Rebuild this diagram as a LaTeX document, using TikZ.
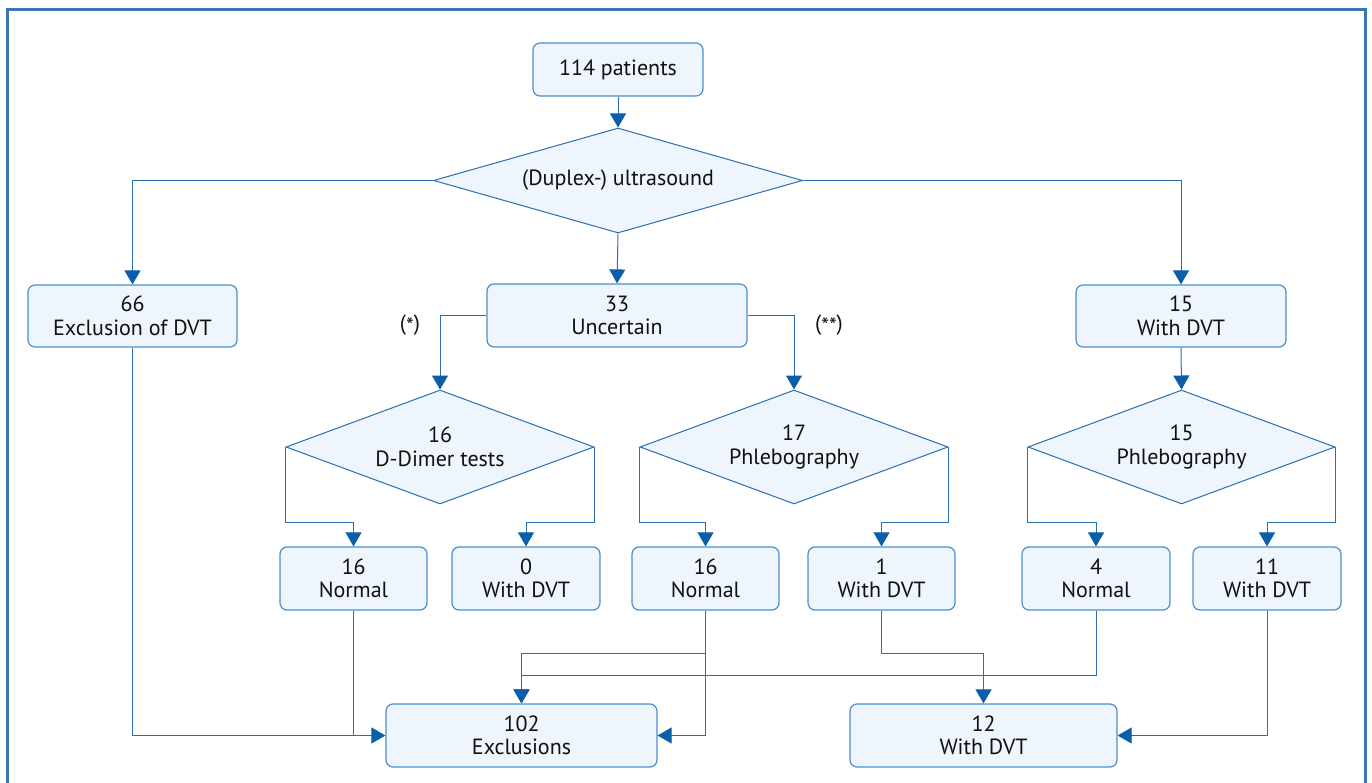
\documentclass[tikz,border=0pt]{standalone}
\usepackage{fontspec}
\setmainfont{PT Sans}
\usetikzlibrary{shapes.geometric,arrows.meta}
\definecolor{lineblue}{HTML}{2A6FB2}
\definecolor{arrowblue}{HTML}{0B5FA8}
\definecolor{boxfill}{HTML}{EEF5FC}
\definecolor{boxline}{HTML}{4D8FCB}
\definecolor{frameblue}{HTML}{3A76B4}
\definecolor{txt}{HTML}{111111}
\newcommand{\lowast}{\raisebox{-0.28ex}{*}}
\begin{document}
\begin{tikzpicture}[x=1pt,y=-1pt,
  every node/.style={font=\fontsize{22}{23.5}\selectfont, text=txt},
  box/.style={draw=boxline, fill=boxfill, rounded corners=7pt, line width=1.2pt, align=center, inner sep=0pt},
  dia/.style={draw=lineblue, fill=boxfill, diamond, aspect=3, inner sep=0pt, line width=1pt, align=center},
  conn/.style={draw=lineblue, line width=1pt},
  arr/.style={conn, -{Triangle[width=16pt,length=14pt,color=arrowblue]}},
  lbl/.style={inner sep=0pt}
]
\useasboundingbox (0,0) rectangle (1372,783);
\draw[frameblue, line width=2.5pt] (7.5,783) -- (7.5,9.5) -- (1365.5,9.5) -- (1365.5,783);

\node[box, minimum width=170pt, minimum height=53pt] (p114) at (618,69.5) {114 patients};
\node[dia, minimum width=369pt, minimum height=105pt] (dup) at (618,180.5) {(Duplex-) ultrasound};
\node[box, minimum width=209pt, minimum height=62pt] (b66) at (132.5,316) {66\\Exclusion of DVT};
\node[box, minimum width=260pt, minimum height=63pt] (b33) at (617,315.5) {33\\Uncertain};
\node[box, minimum width=210pt, minimum height=62pt] (b15) at (1181,316) {15\\With DVT};
\node[dia, minimum width=308pt, minimum height=114pt] (dd) at (440,447) {16\\D-Dimer tests};
\node[dia, minimum width=308pt, minimum height=114pt] (ph17) at (794,447) {17\\Phlebography};
\node[dia, minimum width=307pt, minimum height=114pt] (ph15) at (1181.5,447) {15\\Phlebography};
\node[box, minimum width=147pt, minimum height=63pt] (n16a) at (353.5,578.5) {16\\Normal};
\node[box, minimum width=148pt, minimum height=63pt] (d0) at (526,578.5) {0\\With DVT};
\node[box, minimum width=147pt, minimum height=63pt] (n16b) at (705.5,578.5) {16\\Normal};
\node[box, minimum width=147pt, minimum height=63pt] (d1) at (881.5,578.5) {1\\With DVT};
\node[box, minimum width=148pt, minimum height=63pt] (n4) at (1096,578.5) {4\\Normal};
\node[box, minimum width=148pt, minimum height=63pt] (d11) at (1267,578.5) {11\\With DVT};
\node[box, minimum width=271pt, minimum height=63pt] (excl) at (521.5,735.5) {102\\Exclusions};
\node[box, minimum width=267pt, minimum height=63pt] (dvt12) at (983.5,735.5) {12\\With DVT};

\node[lbl] (s1) at (410,325) {(\lowast)};
\node[lbl] (s2) at (829,325) {(\lowast\lowast)};

\coordinate (lv) at (0,522);
\coordinate (l1) at (0,653);
\coordinate (l2) at (0,675);

\draw[arr] (p114.south) -- (dup.north);
\draw[arr] (dup.west) -| (b66.north);
\draw[arr] (dup.south) -- (b33.north);
\draw[arr] (dup.east) -| (b15.north);
\draw[arr] (b33.west) -| (dd.north);
\draw[arr] (b33.east) -| (ph17.north);
\draw[arr] (b15.south) -- (ph15.north);

\draw[arr] (dd.west) -- (dd.west |- lv) -| (n16a.north);
\draw[arr] (dd.east) -- (dd.east |- lv) -| (d0.north);
\draw[arr] (ph17.west) -- (ph17.west |- lv) -| (n16b.north);
\draw[arr] (ph17.east) -- (ph17.east |- lv) -| (d1.north);
\draw[arr] (ph15.west) -- (ph15.west |- lv) -| (n4.north);
\draw[arr] (ph15.east) -- (ph15.east |- lv) -| (d11.north);

\draw[arr] (b66.south) |- (excl.west);
\draw[conn] (n16a.south) -- (n16a.south |- excl.west);
\draw[arr] (n16b.south) |- (excl.east);
\draw[arr] (n16b.south |- l1) -| (excl.north);
\draw[arr] (n4.south) -- (n4.south |- l2) -| (excl.north);
\draw[arr] (d1.south) -- (d1.south |- l1) -| (dvt12.north);
\draw[arr] (d11.south) |- (dvt12.east);
\end{tikzpicture}
\end{document}
